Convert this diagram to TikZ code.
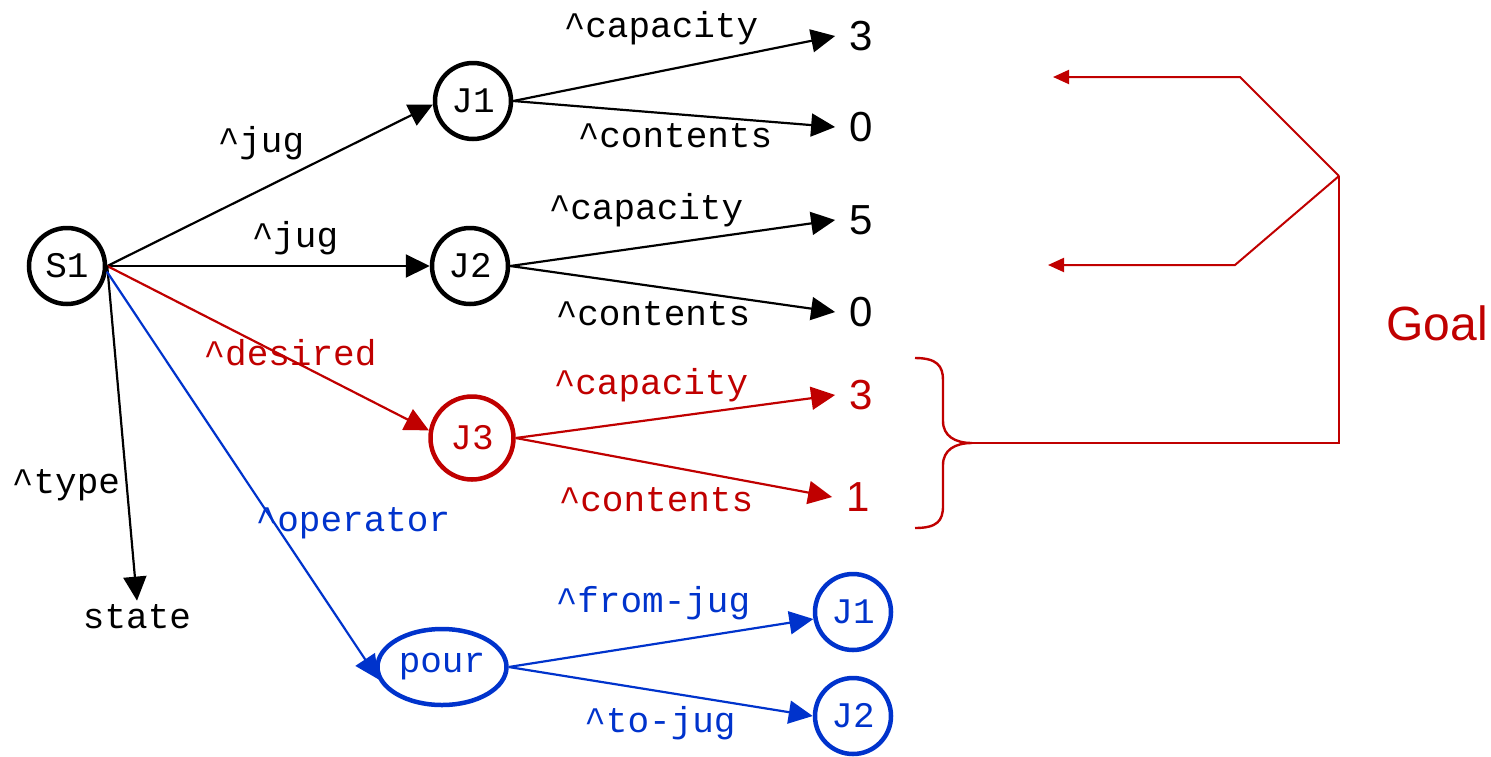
\documentclass[tikz,border=0pt]{standalone}
\usepackage{fontspec}
\setmainfont{Liberation Sans}
\newfontfamily\monofont{Liberation Mono}
\usetikzlibrary{arrows.meta,shapes.geometric}
\definecolor{goalred}{HTML}{C00000}
\definecolor{opblue}{HTML}{0033CC}

\begin{document}
\begin{tikzpicture}[x=1pt,y=-1pt,
  every node/.style={inner sep=0pt},
  lbl/.style={font=\monofont\fontsize{36}{40}\selectfont},
  num/.style={font=\fontsize{42}{46}\selectfont, inner xsep=14pt},
  obj/.style={circle, draw, line width=4.5pt, minimum size=76pt,
              font=\monofont\fontsize{36}{40}\selectfont},
  link/.style={line width=2.2pt, -{Triangle[length=24pt,width=23pt]}},
  goalline/.style={goalred, line width=2pt},
  goalarrow/.style={goalline, -{Triangle[length=16pt,width=14pt]}},
]
\useasboundingbox (0,0) rectangle (1491,756);

% working memory objects
\node[obj] (S1) at (67,266) {S1};
\node[obj] (J1) at (473,101) {J1};
\node[obj] (J2) at (470,266) {J2};
\node[obj, goalred, minimum size=83pt] (J3) at (472,438) {J3};
\node[ellipse, draw, opblue, line width=4.5pt, minimum width=129pt, minimum height=76pt,
      font=\monofont\fontsize{36}{40}\selectfont] (pour) at (442,667) {pour};
\node[obj, opblue] (K1) at (853,612) {J1};
\node[obj, opblue] (K2) at (853,716) {J2};

% constant values
\node[num] (c1) at (861,36) {3};
\node[num] (c2) at (861,127) {0};
\node[num] (c3) at (861,220) {5};
\node[num] (c4) at (861,312) {0};
\node[num, text=goalred] (c5) at (861,395) {3};
\node[num, text=goalred] (c6) at (858,497) {1};
\node[lbl, inner ysep=4pt] (state) at (137,617) {state};

% attribute edges from the state
\draw[link] (S1.east) -- (J1.185);
\draw[link] (S1.east) -- (J2.west);
\draw[link, goalred] (S1.east) -- (J3.170);
\draw[link] (S1.east) -- (state.north);
\draw[link, opblue] (S1.-8) -- (pour.191);

% jug attributes
\draw[link] (J1.east) -- (c1.west);
\draw[link] (J1.east) -- (c2.west);
\draw[link] (J2.east) -- (c3.west);
\draw[link] (J2.east) -- (c4.west);
\draw[link, goalred] (J3.east) -- (c5.west);
\draw[link, goalred] (J3.east) -- (c6.west);

% operator arguments
\draw[link, opblue] (pour.east) -- (K1.190);
\draw[link, opblue] (pour.east) -- (K2.west);

% edge labels
\node[lbl] (ljug1) at (261,143) {\textasciicircum jug};
\node[lbl] (ljug2) at (295,238) {\textasciicircum jug};
\node[lbl, text=goalred] (ldes) at (290,353) {\textasciicircum desired};
\node[lbl] (ltype) at (66,485) {\textasciicircum type};
\node[lbl, text=opblue] (lop) at (353,523) {\textasciicircum operator};
\node[lbl] (lcap1) at (661,28) {\textasciicircum capacity};
\node[lbl] (lcon1) at (675,136) {\textasciicircum contents};
\node[lbl] (lcap2) at (646,210) {\textasciicircum capacity};
\node[lbl] (lcon2) at (653,314) {\textasciicircum contents};
\node[lbl, text=goalred] (lcap3) at (651,385) {\textasciicircum capacity};
\node[lbl, text=goalred] (lcon3) at (656,500) {\textasciicircum contents};
\node[lbl, text=opblue] (lfrom) at (653,603) {\textasciicircum from-jug};
\node[lbl, text=opblue] (lto) at (660,723) {\textasciicircum to-jug};

% goal brace and pointers
\coordinate (btip) at (972,443);
\coordinate (bcorner) at (1339,443);
\coordinate (gfork) at (1339,176);
\coordinate (gbend1) at (1240,77);
\coordinate (gend1) at (1053,77);
\coordinate (gbend2) at (1235,265);
\coordinate (gend2) at (1048,265);
\draw[goalline, line width=2.4pt]
  (915,358) .. controls (937,358) and (943,366) .. (943,380) -- (943,421)
  .. controls (943,436) and (955,443) .. (btip)
  .. controls (955,443) and (943,450) .. (943,465) -- (943,506)
  .. controls (943,521) and (937,528) .. (915,528);
\draw[goalline] (btip) -- (bcorner) -- (gfork);
\draw[goalarrow] (gfork) -- (gbend1) -- (gend1);
\draw[goalarrow] (gfork) -- (gbend2) -- (gend2);
\node[font=\fontsize{48}{52}\selectfont, text=goalred] (goal) at (1437,323) {Goal};
\end{tikzpicture}
\end{document}
